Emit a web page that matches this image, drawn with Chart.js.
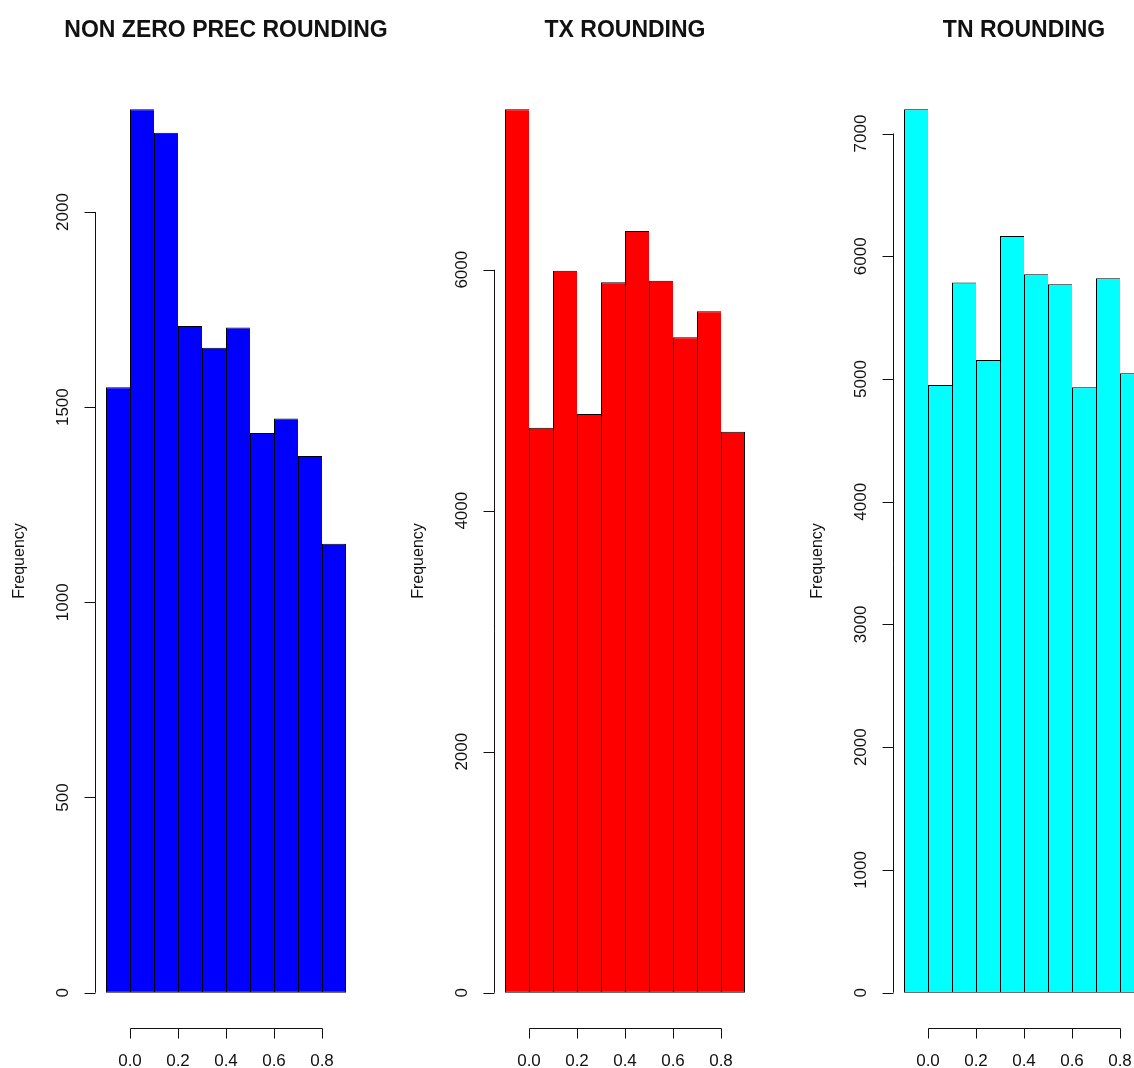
<!DOCTYPE html>
<html>
<head>
<meta charset="utf-8">
<script src="https://cdn.jsdelivr.net/npm/chart.js@4.4.1/dist/chart.umd.min.js"></script>
<style>
  html, body { margin: 0; padding: 0; background: #fff; overflow: hidden; }
  #wrap { position: relative; width: 1134px; height: 1068px; overflow: hidden; background: #fff; }
  #wrap canvas { position: absolute; top: 0; }
</style>
</head>
<body>
<div id="wrap">
  <canvas id="histPrec" width="399" height="1068" style="left:0px"></canvas>
  <canvas id="histTx" width="399" height="1068" style="left:399px"></canvas>
  <canvas id="histTn" width="399" height="1068" style="left:798px"></canvas>
</div>
<script>
// Histogram bin breaks (fractional part of the rounded values)
const breaks = [-0.1, 0.0, 0.1, 0.2, 0.3, 0.4, 0.5, 0.6, 0.7, 0.8, 0.9];

// Bin counts for each variable
const precCounts = [1551, 2263, 2203, 1708, 1652, 1704, 1434, 1471, 1375, 1150];
const txCounts   = [7331, 4689, 5992, 4802, 5895, 6321, 5909, 5439, 5655, 4656];
const tnCounts   = [7197, 4951, 5787, 5154, 6165, 5853, 5771, 4932, 5820, 5046];

// Axis tick values
const xTicks    = [0.0, 0.2, 0.4, 0.6, 0.8];
const precTicks = [0, 500, 1000, 1500, 2000];
const txTicks   = [0, 2000, 4000, 6000];
const tnTicks   = [0, 1000, 2000, 3000, 4000, 5000, 6000, 7000];

// Panel titles
const titles = ['NON ZERO PREC ROUNDING', 'TX ROUNDING', 'TN ROUNDING'];
const yLabel = 'Frequency';

const FONT = '"Liberation Sans", Arial, Helvetica, sans-serif';

// Base-graphics style axes: lines span only the tick range, ticks point outward,
// y tick labels run parallel to the axis; the title is centred over the plot region.
const baseAxes = {
  id: 'baseAxes',
  afterDraw(chart, args, opts) {
    const ctx = chart.ctx;
    const xs = chart.scales.x, ys = chart.scales.y;
    const area = chart.chartArea;
    ctx.save();
    ctx.strokeStyle = '#111';
    ctx.fillStyle = '#111';
    ctx.lineWidth = 1;

    // title
    ctx.font = 'bold 23px ' + FONT;
    ctx.textAlign = 'center';
    ctx.textBaseline = 'middle';
    ctx.fillText(opts.title, (area.left + area.right) / 2, 31);

    // y axis
    const ax = Math.round(area.left) - 0.5;
    const yTop = ys.getPixelForValue(opts.yTicks[opts.yTicks.length - 1]);
    const yBot = ys.getPixelForValue(opts.yTicks[0]);
    ctx.beginPath();
    ctx.moveTo(ax, yBot); ctx.lineTo(ax, yTop);
    opts.yTicks.forEach(v => {
      const py = Math.round(ys.getPixelForValue(v)) + 0.5;
      ctx.moveTo(ax, py); ctx.lineTo(ax - 11, py);
    });
    ctx.stroke();
    ctx.font = '17px ' + FONT;
    opts.yTicks.forEach(v => {
      const py = ys.getPixelForValue(v);
      ctx.save();
      ctx.translate(area.left - 33, py);
      ctx.rotate(-Math.PI / 2);
      ctx.fillText(String(v), 0, 0);
      ctx.restore();
    });
    ctx.font = '16px ' + FONT;
    ctx.save();
    ctx.translate(area.left - 77, (area.top + area.bottom) / 2 + 10);
    ctx.rotate(-Math.PI / 2);
    ctx.fillText(opts.yLabel, 0, 0);
    ctx.restore();

    // x axis
    ctx.font = '17px ' + FONT;
    const by = Math.round(area.bottom) + 0.5;
    const xL = Math.round(xs.getPixelForValue(opts.xTicks[0])) + 0.5;
    const xR = Math.round(xs.getPixelForValue(opts.xTicks[opts.xTicks.length - 1])) + 0.5;
    ctx.beginPath();
    ctx.moveTo(xL, by); ctx.lineTo(xR, by);
    opts.xTicks.forEach(v => {
      const px = Math.round(xs.getPixelForValue(v)) + 0.5;
      ctx.moveTo(px, by); ctx.lineTo(px, by + 10);
    });
    ctx.stroke();
    opts.xTicks.forEach(v => {
      ctx.fillText(v.toFixed(1), xs.getPixelForValue(v), area.bottom + 33);
    });
    ctx.restore();
  }
};

function makeHist(canvasId, counts, color, yTicks, title) {
  const mids = breaks.slice(0, -1).map((b, i) => (b + breaks[i + 1]) / 2);
  const data = counts.map((c, i) => ({ x: mids[i], y: c }));
  const xRange = breaks[breaks.length - 1] - breaks[0];
  const yMax = Math.max(...counts);
  const n = counts.length;
  return new Chart(document.getElementById(canvasId), {
    type: 'bar',
    data: {
      datasets: [{
        data,
        backgroundColor: color,
        borderColor: '#000',
        // shared edges are drawn once: each bar outlines its left side, the last one closes the right
        borderWidth: ctx => ({ top: 1, left: 1, bottom: 1, right: ctx.dataIndex === n - 1 ? 1 : 0 }),
        borderSkipped: false,
        barPercentage: 1,
        categoryPercentage: 1,
        inflateAmount: 0
      }]
    },
    options: {
      responsive: false,
      animation: false,
      events: [],
      // plot region 259.2px wide so each 0.1-wide bin spans exactly 24px
      layout: { padding: { left: 96.4, right: 43.4, top: 74, bottom: 40 } },
      scales: {
        x: {
          type: 'linear',
          display: false,
          min: breaks[0] - 0.04 * xRange,
          max: breaks[breaks.length - 1] + 0.04 * xRange,
          offset: false
        },
        y: {
          type: 'linear',
          display: false,
          min: -0.04 * yMax,
          max: 1.04 * yMax
        }
      },
      plugins: {
        legend: { display: false },
        tooltip: { enabled: false },
        title: { display: false },
        baseAxes: { xTicks, yTicks, yLabel, title }
      }
    },
    plugins: [baseAxes]
  });
}

makeHist('histPrec', precCounts, '#0000ff', precTicks, titles[0]);
makeHist('histTx', txCounts, '#ff0000', txTicks, titles[1]);
makeHist('histTn', tnCounts, '#00ffff', tnTicks, titles[2]);
</script>
</body>
</html>
